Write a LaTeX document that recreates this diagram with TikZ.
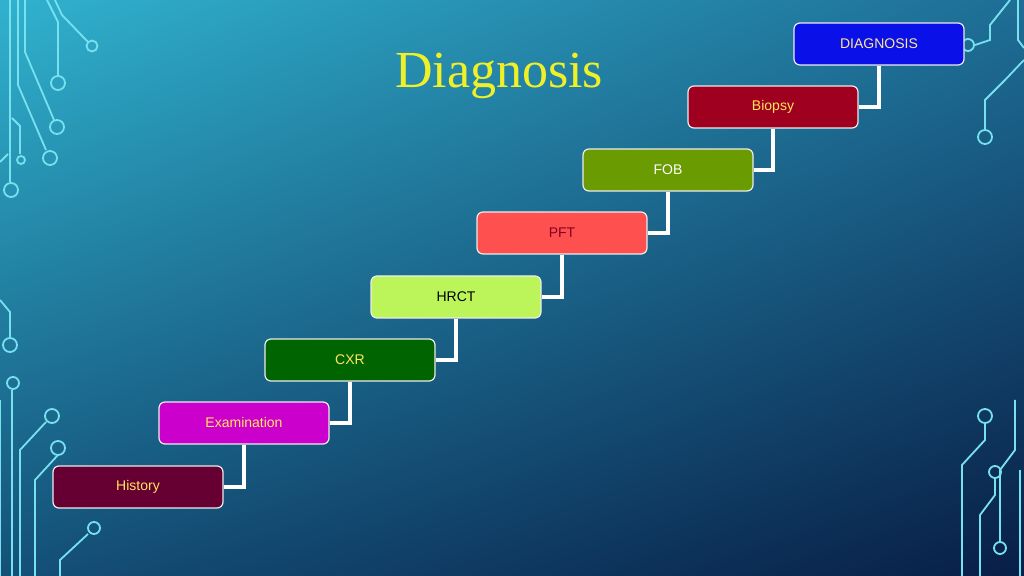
\documentclass[tikz,border=0pt]{standalone}
\usepackage{fontspec}
\setsansfont{Liberation Sans}
\setmainfont{Liberation Serif}
\usetikzlibrary{shadings}
\definecolor{bgul}{RGB}{48,178,206}
\definecolor{bgur}{RGB}{30,110,150}
\definecolor{bgll}{RGB}{20,80,120}
\definecolor{bglr}{RGB}{8,30,70}
\definecolor{ylw}{RGB}{255,230,90}
\definecolor{ttl}{RGB}{240,240,40}
\definecolor{circc}{RGB}{120,225,240}
\begin{document}
\begin{tikzpicture}[x=0.5pt,y=-0.5pt,
  stepbox/.style={draw=white!85!gray,line width=0.6pt,rounded corners=3pt,minimum width=85pt,minimum height=21pt,font=\sffamily\fontsize{7}{8}\selectfont,inner sep=0pt},
  conn/.style={draw=white,line width=2.2pt},
  circ/.style={draw=circc,line width=0.9pt},
  tl/.style={draw=circc,line width=0.9pt}]
\useasboundingbox (0,0) rectangle (1024,576);
\shade[upper left=bgul,upper right=bgur,lower left=bgll,lower right=bglr] (0,0) rectangle (1024,576);
% left top circuits
\draw[tl] (10,0) -- (10,182); \draw[circ] (11,190) circle (7);
\draw[tl] (18,0) -- (18,85) -- (46,150); \draw[circ] (50,158) circle (7);
\draw[tl] (25,0) -- (25,52) -- (54,120); \draw[circ] (57,127) circle (7);
\draw[tl] (47,0) -- (58,22) -- (58,75); \draw[circ] (58,83) circle (7);
\draw[tl] (55,0) -- (62,15) -- (88,42); \draw[circ] (92,46) circle (5.5);
\draw[tl] (12,118) -- (20,126) -- (20,154); \draw[circ] (21,160) circle (4);
\draw[tl] (0,162) -- (8,154);
% left bottom
\draw[tl] (0,300) -- (10,312) -- (10,338); \draw[circ] (10,345) circle (7);
\draw[tl] (12,390) -- (12,576);
\draw[circ] (13,383) circle (6);
\draw[tl] (0,400) -- (0,576);
\draw[tl] (46,422) -- (20,450) -- (20,576); \draw[circ] (52,416) circle (7);
\draw[tl] (58,455) -- (35,480) -- (35,576); \draw[circ] (58,448) circle (7);
\draw[tl] (88,534) -- (60,560) -- (60,576); \draw[circ] (94,528) circle (6);
% right top
\draw[tl] (1010,0) -- (990,25) -- (990,40) -- (975,45); \draw[circ] (968,45) circle (6);
\draw[tl] (1024,60) -- (1005,80) -- (985,100) -- (985,130); \draw[circ] (985,137) circle (7);
\draw[tl] (1018,0) -- (1018,40) -- (1024,48);
% right bottom
\draw[tl] (985,423) -- (985,440) -- (962,465) -- (962,576); \draw[circ] (985,416) circle (7);
\draw[tl] (995,479) -- (995,495) -- (980,515) -- (980,576); \draw[circ] (995,472) circle (6);
\draw[tl] (1000,541) -- (1000,470) -- (1015,450) -- (1015,400); \draw[circ] (1000,548) circle (6);
\draw[tl] (1020,576) -- (1020,470);
% title
\node[font=\fontsize{26}{30}\selectfont,text=ttl] (title) at (499,76) {Diagnosis};
% boxes
\node[stepbox,fill={rgb,255:red,102;green,0;blue,51},text=ylw] (b1) at (138,487) {History};
\node[stepbox,fill={rgb,255:red,204;green,0;blue,204},text=ylw] (b2) at (244,423) {Examination};
\node[stepbox,fill={rgb,255:red,0;green,100;blue,0},text=ylw] (b3) at (350,360) {CXR};
\node[stepbox,fill={rgb,255:red,187;green,245;blue,90},text=black] (b4) at (456,297) {HRCT};
\node[stepbox,fill={rgb,255:red,255;green,80;blue,80},text={rgb,255:red,130;green,0;blue,40}] (b5) at (562,233) {PFT};
\node[stepbox,fill={rgb,255:red,106;green,155;blue,0},text=white] (b6) at (668,170) {FOB};
\node[stepbox,fill={rgb,255:red,160;green,0;blue,32},text=ylw] (b7) at (773,107) {Biopsy};
\node[stepbox,fill={rgb,255:red,10;green,16;blue,232},text={rgb,255:red,255;green,230;blue,150}] (b8) at (879,44) {DIAGNOSIS};
% connectors
\foreach \u/\l in {b2/b1,b3/b2,b4/b3,b5/b4,b6/b5,b7/b6,b8/b7}
  \draw[conn] (\u.south) -- (\u.south |- \l.east) -- (\l.east);
\end{tikzpicture}
\end{document}
